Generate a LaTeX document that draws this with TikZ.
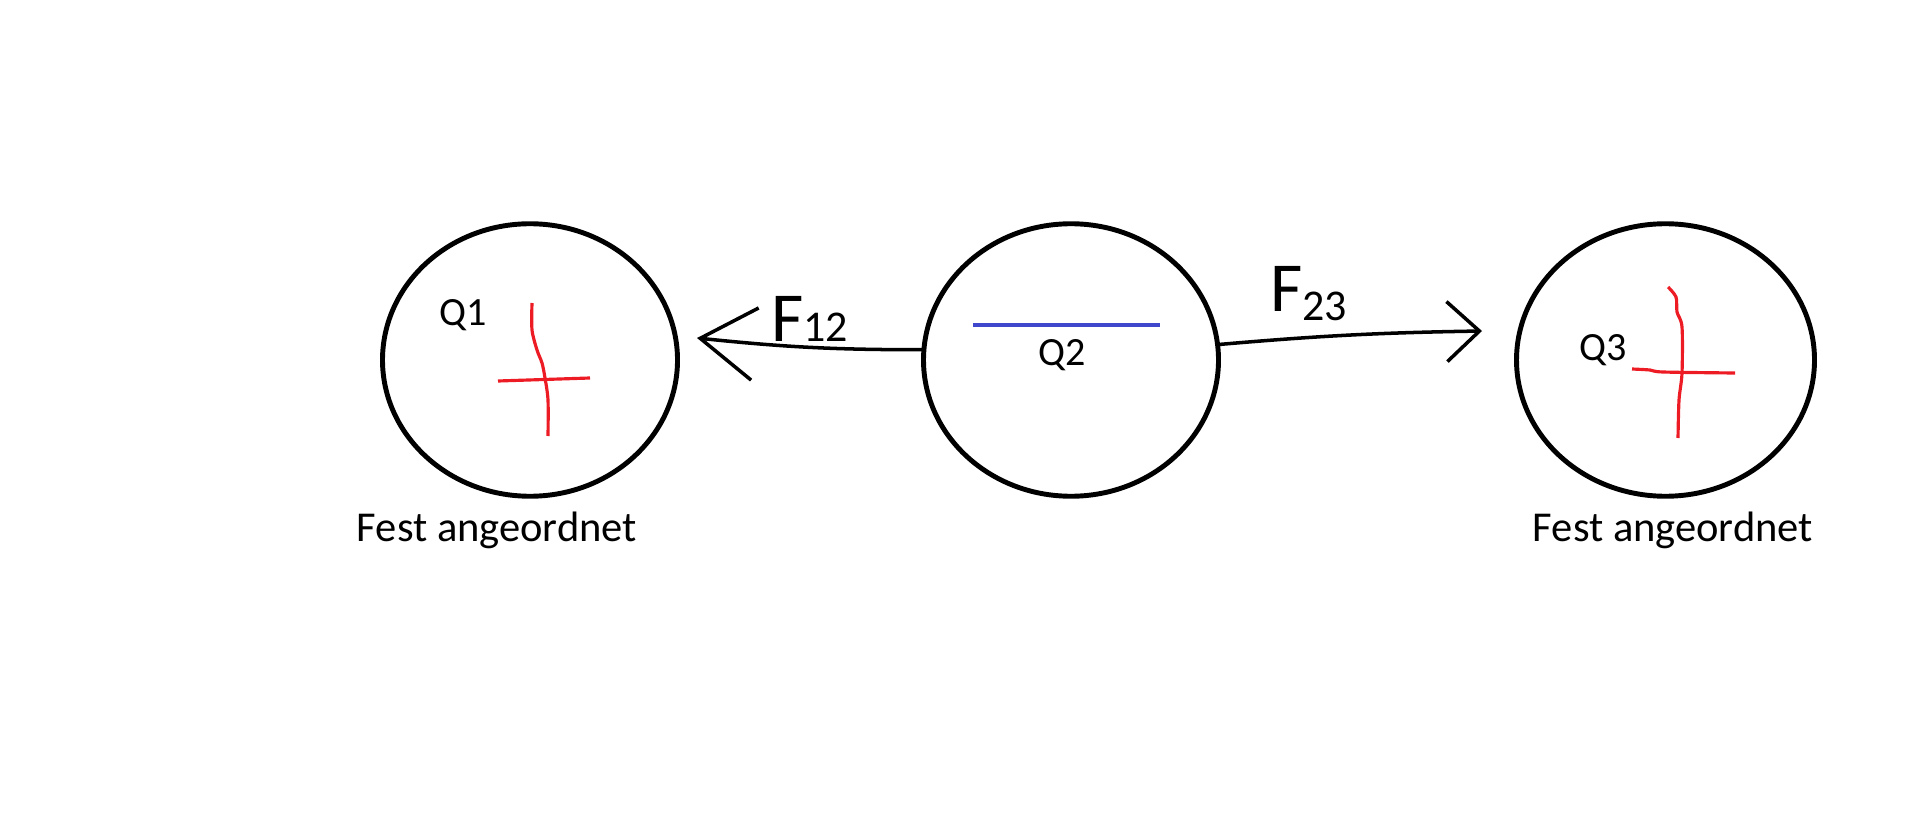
\documentclass[tikz,border=0pt]{standalone}
\usepackage{fontspec}
\setmainfont{Carlito}
\usepackage{tikz}
\definecolor{plusred}{RGB}{237, 28, 36}
\definecolor{minusblue}{RGB}{63, 72, 204}
\usetikzlibrary{shapes.geometric, arrows.meta, positioning}
\newcommand{\fsub}[1]{{\fontsize{25}{25}\selectfont #1}}

\begin{document}
\begin{tikzpicture}[
    charge/.style={ellipse, draw, line width=2.8pt, outer sep=0pt,
                   minimum width=5.9cm, minimum height=5.45cm},
    qlabel/.style={inner sep=0pt, font=\fontsize{22.8}{24}\selectfont},
    fixlabel/.style={inner sep=0pt, font=\fontsize{24.2}{26}\selectfont},
    forcelabel/.style={inner sep=0pt, anchor=base west, font=\fontsize{40}{40}\selectfont},
    force/.style={line width=2pt, line cap=round},
    plusmark/.style={plusred, line width=1.8pt},
    minusmark/.style={minusblue, line width=1.8pt}
]
    \useasboundingbox (0,0) rectangle (38.28,-16.52);

    % the three charges
    \node[charge] (q1) at (10.6,-7.2) {};
    \node[charge, right=4.92cm of q1] (q2) {};
    \node[charge, right=5.96cm of q2, minimum width=5.96cm] (q3) {};

    \node[qlabel, xshift=-1.34cm, yshift=0.9cm] (lq1) at (q1) {Q1};
    \node[qlabel, xshift=-0.18cm, yshift=0.1cm] (lq2) at (q2) {Q2};
    \node[qlabel, xshift=-1.24cm, yshift=0.2cm] (lq3) at (q3) {Q3};

    \node[fixlabel, below=0.3cm of q1, xshift=-0.66cm] (fix1) {Fest angeordnet};
    \node[fixlabel, below=0.3cm of q3, xshift=0.15cm] (fix3) {Fest angeordnet};

    % signs
    \draw[plusmark] plot[smooth] coordinates {(10.64,-6.06) (10.64,-6.6) (10.74,-7.0)
        (10.84,-7.26) (10.9,-7.56) (10.96,-8.0) (10.96,-8.72)};
    \draw[plusmark] (9.96,-7.62) -- (11.8,-7.56);
    \draw[plusmark] plot[smooth] coordinates {(33.36,-5.74) (33.52,-5.94) (33.54,-6.24)
        (33.64,-6.54) (33.64,-7.46) (33.58,-8.0) (33.56,-8.76)};
    \draw[plusmark] plot[smooth] coordinates {(32.64,-7.38) (33.0,-7.4) (33.26,-7.44) (34.7,-7.46)};
    \draw[minusmark] (19.46,-6.5) -- (23.2,-6.5);

    % forces
    \coordinate (tipL) at (13.94,-6.76);
    \coordinate (tipR) at (29.64,-6.62);
    \draw[force, -{Straight Barb[length=1.1cm, width=1.45cm]}] (q2.176) to[bend left=3] (tipL);
    \draw[force, -{Straight Barb[length=0.65cm, width=1.2cm]}] (q2.6) to[bend left=2] (tipR);

    \node[forcelabel] (f12) at (15.42,-6.84) {F\fsub{12}};
    \node[forcelabel] (f23) at (25.4,-6.24) {F\raisebox{-0.16cm}{\fsub{23}}};
\end{tikzpicture}
\end{document}
